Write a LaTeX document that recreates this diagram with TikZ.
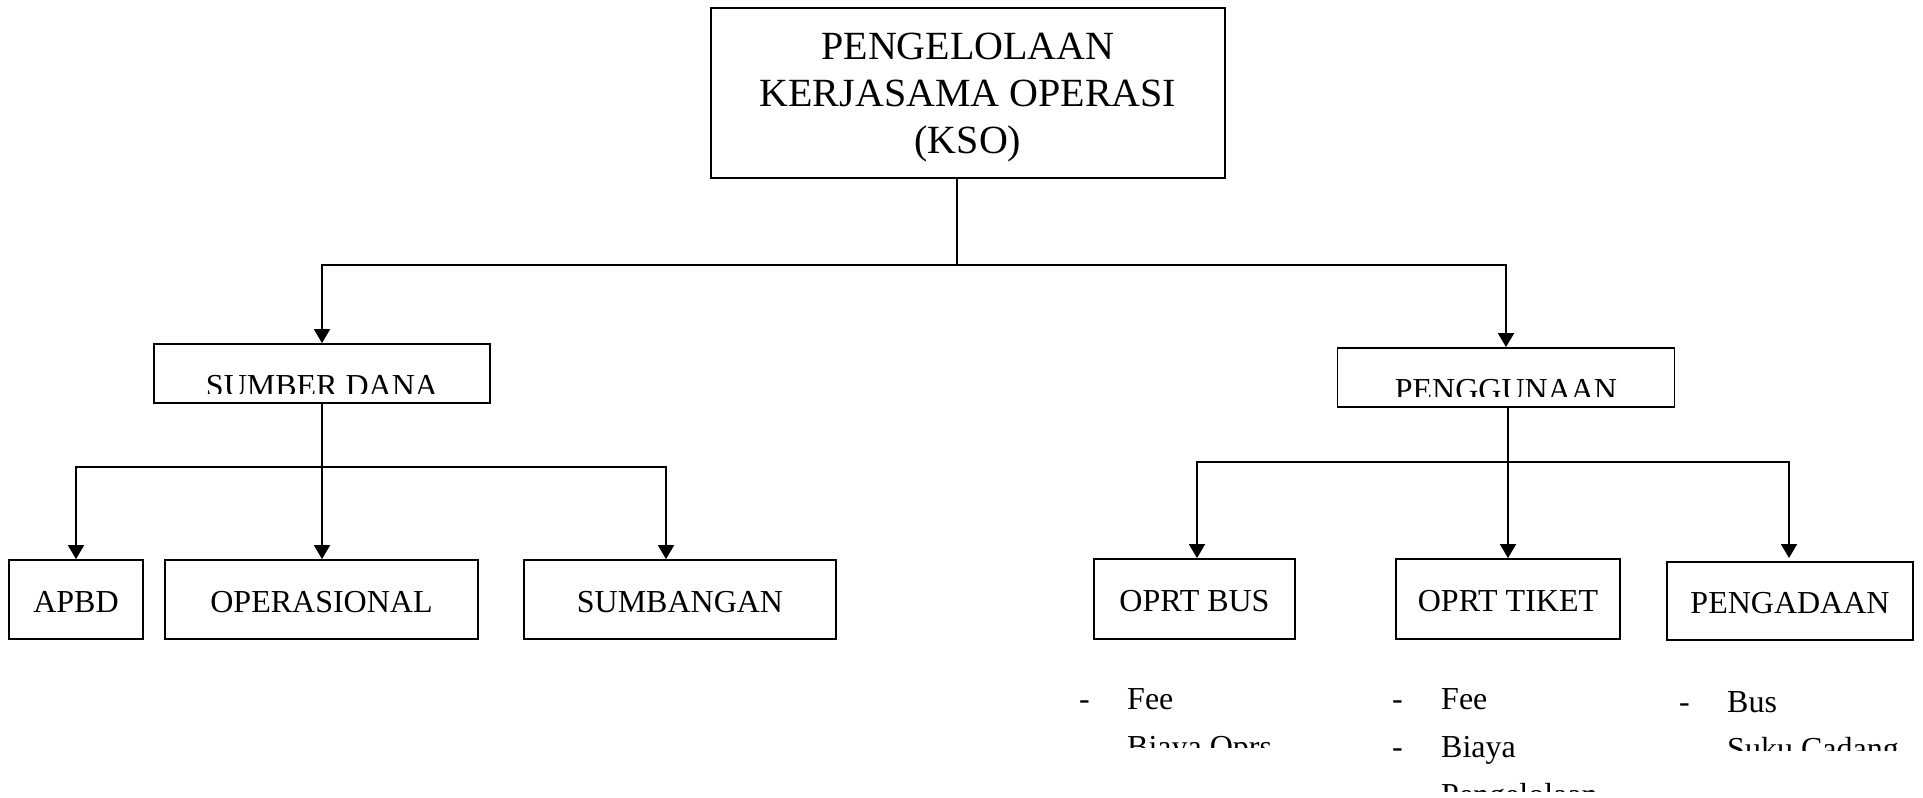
\documentclass[tikz,border=0pt]{standalone}
\usepackage{fontspec}
\setmainfont{Liberation Serif}
\usetikzlibrary{arrows.meta}
\begin{document}
\begin{tikzpicture}[x=1pt,y=-1pt,
  box/.style={draw, line width=1.8pt, inner sep=0pt, font=\fontsize{32}{38}\selectfont},
  item/.style={box, text height=25pt, text depth=0pt},
  conn/.style={line width=1.8pt},
  arr/.style={conn, -{Triangle[length=14pt,width=16pt]}},
  lbl/.style={inner sep=0pt, anchor=base west, font=\fontsize{32}{38}\selectfont},
  ctr/.style={inner sep=0pt, anchor=base, font=\fontsize{32}{38}\selectfont},
]
\useasboundingbox (0,0) rectangle (1923,798);

% root
\node[box, minimum width=514pt, minimum height=170pt] (kso) at (968,93) {};
\node[inner sep=0pt, align=center, font=\fontsize{40}{47}\selectfont] (ksotxt) at (968,98)
      {PENGELOLAAN\\KERJASAMA OPERASI\\(KSO)};

% second level
\node[box, minimum width=336pt, minimum height=59pt] (dana) at (322,373.5) {};
\node[box, minimum width=337pt, minimum height=59pt] (pen) at (1506,377.5) {};

\begin{scope}
  \clip (150,340) rectangle (495,393);
  \node[ctr] (danatxt) at (322,396) {SUMBER DANA};
\end{scope}
\begin{scope}
  \clip (1333,344) rectangle (1680,396);
  \node[ctr] (pentxt) at (1506,400) {PENGGUNAAN};
\end{scope}

% third level, funding
\node[item, minimum width=134pt, minimum height=79pt] (apbd) at (76,599.5) {APBD};
\node[item, minimum width=313pt, minimum height=79pt] (opr) at (321.5,599.5) {OPERASIONAL};
\node[item, minimum width=312pt, minimum height=79pt] (sumb) at (680,599.5) {SUMBANGAN};

% third level, usage
\node[item, minimum width=201pt, minimum height=80pt] (bus) at (1194.5,599) {OPRT BUS};
\node[item, minimum width=224pt, minimum height=80pt] (tiket) at (1508,599) {OPRT TIKET};
\node[item, minimum width=246pt, minimum height=78pt] (adaan) at (1790,601) {PENGADAAN};

% connectors from the root
\coordinate (j0) at (957,265);
\draw[conn] (kso.south -| j0) -- (j0);
\draw[arr] (j0) -| (dana.north);
\draw[arr] (j0) -| (pen.north);

% connectors under SUMBER DANA
\coordinate (j1) at (322,467);
\coordinate (s1) at (666,467);
\draw[arr] (dana.south) -- (opr.north -| dana.south);
\draw[arr] (j1) -| (apbd.north);
\draw[arr] (j1) -- (s1) -- (s1 |- sumb.north);

% connectors under PENGGUNAAN
\coordinate (j2) at (1508,462);
\coordinate (b1) at (1197,462);
\coordinate (p1) at (1789,462);
\draw[arr] (pen.south -| j2) -- (tiket.north -| j2);
\draw[arr] (j2) -- (b1) -- (b1 |- bus.north);
\draw[arr] (j2) -- (p1) -- (1789,558);

% item lists
\node[lbl] (d1) at (1079,709) {-};
\node[lbl] (f1) at (1127,709) {Fee};
\begin{scope}
  \clip (1070,720) rectangle (1320,747);
  \node[lbl] (o1) at (1127,757) {Biaya Oprs};
\end{scope}

\node[lbl] (d2) at (1392,709) {-};
\node[lbl] (f2) at (1441,709) {Fee};
\node[lbl] (d3) at (1392,757) {-};
\node[lbl] (b2) at (1441,757) {Biaya};
\begin{scope}
  \clip (1380,770) rectangle (1660,791);
  \node[lbl] (g2) at (1441,805) {Pengelolaan};
\end{scope}

\node[lbl] (d4) at (1679,712) {-};
\node[lbl] (u3) at (1727,712) {Bus};
\begin{scope}
  \clip (1670,722) rectangle (1923,750);
  \node[lbl] (k3) at (1727,759) {Suku Cadang};
\end{scope}
\end{tikzpicture}
\end{document}
